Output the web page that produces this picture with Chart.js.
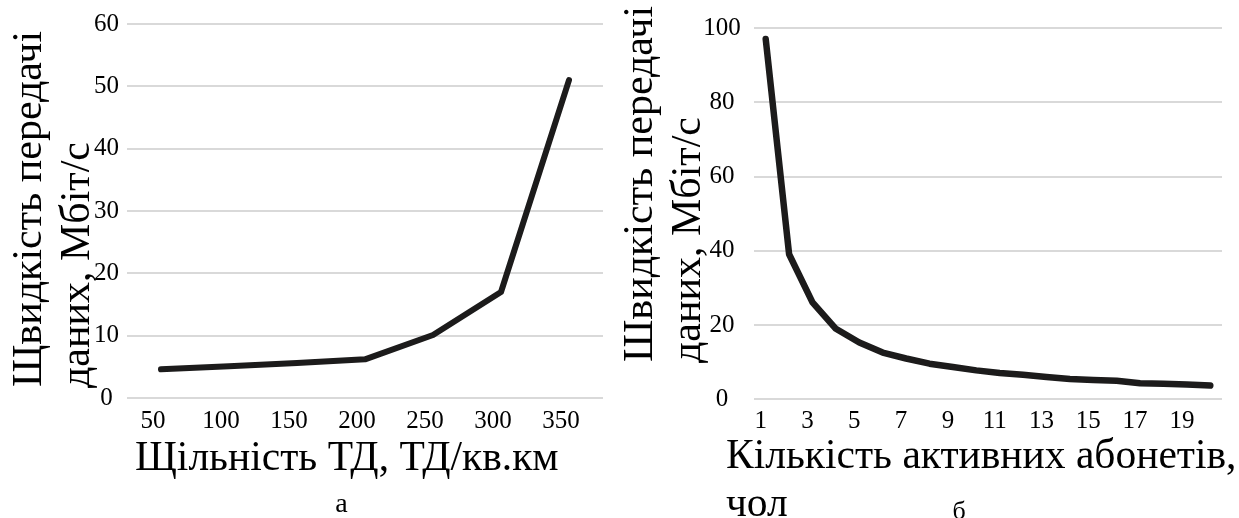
<!DOCTYPE html>
<html>
<head>
<meta charset="utf-8">
<script src="https://cdn.jsdelivr.net/npm/chart.js@4"></script>
<style>
  html, body { margin: 0; padding: 0; background: #ffffff; }
  #wrap { position: relative; width: 1239px; height: 518px; overflow: hidden; background: #fff; }
  #left { position: absolute; left: 0; top: 0; }
  #right { position: absolute; left: 620px; top: 0; }
</style>
</head>
<body>
<div id="wrap">
  <canvas id="left" width="620" height="518"></canvas>
  <canvas id="right" width="619" height="518"></canvas>
</div>
<script>
// ---- Data ----
const densityLabels = ['50', '100', '150', '200', '250', '300', '350'];
const speedByDensity = [4.6, 5.1, 5.6, 6.2, 10.1, 17.0, 51.0];

const subscriberLabels = ['1','2','3','4','5','6','7','8','9','10','11','12','13','14','15','16','17','18','19','20'];
const speedBySubscribers = [97.1, 39.1, 26.1, 19.0, 15.3, 12.6, 11.0, 9.6, 8.7, 7.8, 7.1, 6.6, 6.0, 5.5, 5.2, 5.0, 4.3, 4.2, 4.0, 3.7];

const leftYTicksMax = 60, leftYStep = 10;
const rightYTicksMax = 100, rightYStep = 20;

// ---- Texts ----
const leftYTitle = ['Щвидкість передачі', 'даних, Мбіт/с'];
const rightYTitle = ['Швидкість передачі', 'даних, Мбіт/с'];
const leftXTitle = 'Щільність ТД, ТД/кв.км';
const rightXTitle = ['Кількість активних абонетів,', 'чол'];
const captionA = 'а';
const captionB = 'б';

// ---- Styling ----
const FONT = "'Liberation Serif', 'Times New Roman', serif";
const LINE_COLOR = '#1c1b1b';
const GRID_COLOR = '#d9d9d9';

const figureText = {
  id: 'figureText',
  afterDraw(chart, args, opts) {
    const ctx = chart.ctx;
    ctx.save();
    ctx.fillStyle = '#000';
    for (const t of opts.items) {
      ctx.save();
      ctx.font = t.size + 'px ' + FONT;
      ctx.translate(t.x, t.y);
      if (t.rotate) ctx.rotate(-Math.PI / 2);
      ctx.textAlign = t.align || 'left';
      ctx.textBaseline = 'alphabetic';
      ctx.fillText(t.text, 0, 0);
      ctx.restore();
    }
    ctx.restore();
  }
};

function makeChart(canvasId, labels, values, yMax, yStep, cfg) {
  return new Chart(document.getElementById(canvasId), {
    type: 'line',
    data: {
      labels: labels,
      datasets: [{
        data: values,
        borderColor: LINE_COLOR,
        borderWidth: cfg.lineWidth,
        pointRadius: 0,
        tension: 0,
        borderJoinStyle: 'round',
        borderCapStyle: 'round',
        fill: false
      }]
    },
    options: {
      responsive: false,
      animation: false,
      layout: { padding: cfg.padding },
      plugins: {
        legend: { display: false },
        tooltip: { enabled: false },
        figureText: { items: cfg.texts }
      },
      scales: {
        x: {
          offset: true,
          grid: { display: false, drawTicks: false },
          border: { display: false },
          ticks: {
            autoSkip: false,
            maxRotation: 0,
            minRotation: 0,
            padding: cfg.xTickPadding,
            labelOffset: cfg.xLabelOffset,
            color: '#000',
            font: { family: FONT, size: 25 },
            callback: cfg.xCallback
          }
        },
        y: {
          min: 0,
          max: yMax,
          grid: { color: GRID_COLOR, lineWidth: 2, drawTicks: false },
          border: { display: false },
          ticks: {
            stepSize: yStep,
            crossAlign: 'center',
            padding: cfg.yTickPadding,
            color: '#000',
            font: { family: FONT, size: 25 }
          }
        }
      }
    },
    plugins: [figureText]
  });
}

makeChart('left', densityLabels, speedByDensity, leftYTicksMax, leftYStep, {
  lineWidth: 6,
  padding: { left: 86, right: 17, top: 24, bottom: 74 },
  xTickPadding: 8,
  xLabelOffset: -8,
  yTickPadding: 8,
  xCallback: function (v, i) { return this.getLabelForValue(v); },
  texts: [
    { text: leftYTitle[0], x: 41, y: 387, size: 42, rotate: true },
    { text: leftYTitle[1], x: 89, y: 388, size: 42, rotate: true },
    { text: leftXTitle, x: 135, y: 470, size: 41.5 },
    { text: captionA, x: 341.5, y: 512, size: 28, align: 'center' }
  ]
});

makeChart('right', subscriberLabels, speedBySubscribers, rightYTicksMax, rightYStep, {
  lineWidth: 6.5,
  padding: { left: 70, right: 17, top: 25.7, bottom: 74.7 },
  xTickPadding: 7,
  xLabelOffset: -5,
  yTickPadding: 13.25,
  xCallback: function (v, i) { return i % 2 === 0 ? this.getLabelForValue(v) : ''; },
  texts: [
    { text: rightYTitle[0], x: 32, y: 362, size: 42, rotate: true },
    { text: rightYTitle[1], x: 80, y: 363, size: 42, rotate: true },
    { text: rightXTitle[0], x: 106, y: 468, size: 41.5 },
    { text: rightXTitle[1], x: 106, y: 516, size: 41.5 },
    { text: captionB, x: 339, y: 519, size: 26, align: 'center' }
  ]
});
</script>
</body>
</html>
